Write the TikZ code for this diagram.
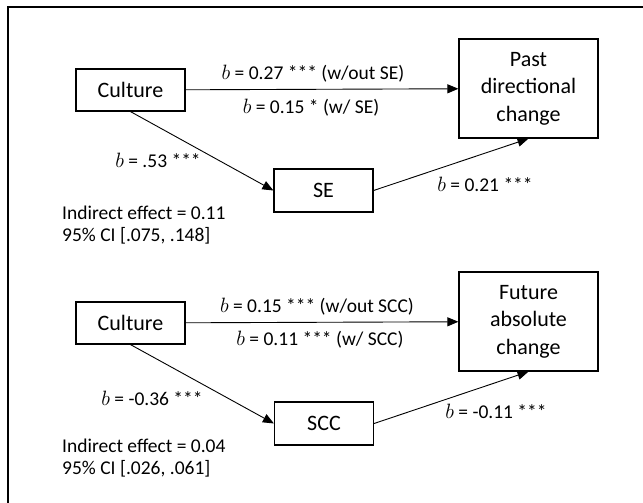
\documentclass[tikz,border=0pt]{standalone}
\usepackage{fontspec}
\setmainfont{Carlito}
\usetikzlibrary{arrows.meta,positioning}

\begin{document}
\begin{tikzpicture}[
    x=1pt, y=-1pt,
    box/.style={rectangle, draw, line width=1.2pt, minimum width=109pt, minimum height=42pt, align=center, inner sep=0pt, font=\fontsize{22}{27.5}\selectfont},
    outbox/.style={box, minimum width=139pt, minimum height=99pt},
    medbox/.style={box, minimum width=99pt, minimum height=43pt},
    lbl/.style={inner sep=0pt, font=\fontsize{19.5}{22}\selectfont},
    note/.style={lbl, align=left, anchor=west},
    arrow/.style={-{Triangle[length=11pt, width=9pt]}, line width=0.9pt}
]
    \useasboundingbox (0,0) rectangle (643,503);
    \draw[line width=1.3pt] (8,7) rectangle (680,540);

    % past directional change
    \node[box] (cult1) at (130.5,90) {Culture};
    \node[outbox] (past) at (528.5,88.5) {Past\\directional\\change};
    \node[medbox] (se) at (323.5,190.5) {SE};
    \draw[arrow] (cult1) -- (past);
    \draw[arrow] (cult1.south) -- (se.west);
    \draw[arrow] (se.east) -- (past.south);
    \node[lbl] (c1a) at (313,74) {$b$ = 0.27 *** (w/out SE)};
    \node[lbl] (c1b) at (311,108) {$b$ = 0.15 * (w/ SE)};
    \node[lbl] (a1) at (158,160) {$b$ = .53 ***};
    \node[lbl] (b1) at (485,184) {$b$ = 0.21 ***};
    \node[note] (ind1) at (62,225) {Indirect effect = 0.11\\95\% CI [.075, .148]};

    % future absolute change
    \node[box] (cult2) at (130.5,323) {Culture};
    \node[outbox] (future) at (528.5,321.5) {Future\\absolute\\change};
    \node[medbox] (scc) at (324,423.5) {SCC};
    \draw[arrow] (cult2) -- (future);
    \draw[arrow] (cult2.south) -- (scc.west);
    \draw[arrow] (scc.east) -- (future.south);
    \node[lbl] (c2a) at (317,307) {$b$ = 0.15 *** (w/out SCC)};
    \node[lbl] (c2b) at (320,340) {$b$ = 0.11 *** (w/ SCC)};
    \node[lbl] (a2) at (152,398) {$b$ = -0.36 ***};
    \node[lbl] (b2) at (496,411) {$b$ = -0.11 ***};
    \node[note] (ind2) at (62,458) {Indirect effect = 0.04\\95\% CI [.026, .061]};
\end{tikzpicture}
\end{document}
